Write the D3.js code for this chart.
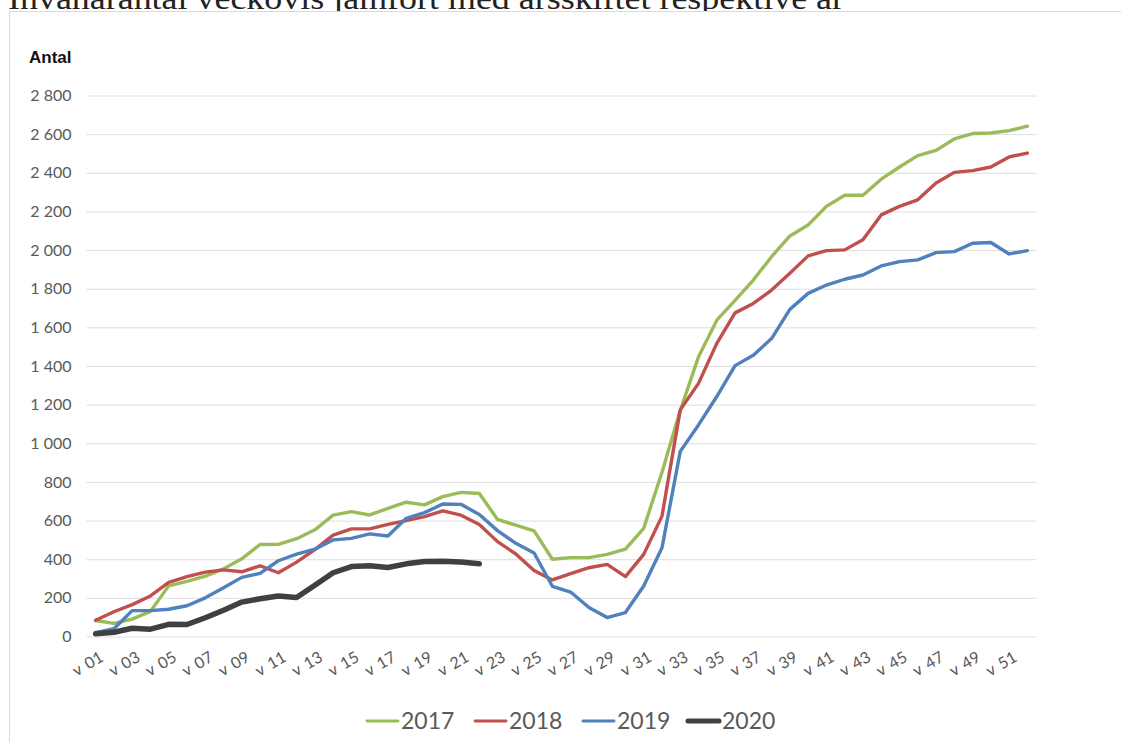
<!DOCTYPE html>
<html>
<head>
<meta charset="utf-8">
<script src="https://cdn.jsdelivr.net/npm/d3@7"></script>
<style>
  body { margin: 0; background: #fff; }
  svg { display: block; }
</style>
</head>
<body>
<div class="main"></div>
<script>
// Week categories and yearly series
const weeks = ["v 01","v 02","v 03","v 04","v 05","v 06","v 07","v 08","v 09","v 10",
  "v 11","v 12","v 13","v 14","v 15","v 16","v 17","v 18","v 19","v 20",
  "v 21","v 22","v 23","v 24","v 25","v 26","v 27","v 28","v 29","v 30",
  "v 31","v 32","v 33","v 34","v 35","v 36","v 37","v 38","v 39","v 40",
  "v 41","v 42","v 43","v 44","v 45","v 46","v 47","v 48","v 49","v 50",
  "v 51","v 52"]
const weekLabels = ["v 01","v 03","v 05","v 07","v 09","v 11","v 13","v 15","v 17","v 19",
  "v 21","v 23","v 25","v 27","v 29","v 31","v 33","v 35","v 37","v 39",
  "v 41","v 43","v 45","v 47","v 49","v 51"]

const y2017 = [83, 68, 90, 130, 262, 285, 312, 350, 402, 476, 477, 506, 552, 628, 646, 629, 663, 695, 681, 724,
  746, 740, 606, 576, 547, 400, 408, 408, 425, 452, 560, 850, 1170, 1448, 1637, 1740, 1845, 1966, 2073, 2130,
  2226, 2284, 2284, 2367, 2430, 2489, 2516, 2575, 2603, 2606, 2618, 2641]
const y2018 = [84, 128, 165, 210, 280, 310, 333, 345, 335, 366, 330, 385, 450, 525, 557, 557, 580, 600, 620, 650,
  628, 580, 491, 427, 342, 293, 325, 356, 373, 310, 425, 623, 1173, 1310, 1517, 1675, 1724, 1793, 1880, 1970,
  1997, 2001, 2053, 2182, 2226, 2260, 2347, 2402, 2411, 2430, 2482, 2502]
const y2019 = [20, 40, 134, 134, 141, 159, 200, 252, 306, 327, 392, 426, 452, 500, 508, 531, 520, 612, 641, 686,
  684, 631, 548, 482, 432, 260, 230, 150, 98, 124, 261, 459, 958, 1095, 1242, 1402, 1456, 1542, 1693, 1776,
  1819, 1849, 1871, 1918, 1940, 1949, 1987, 1992, 2035, 2039, 1980, 1997]
const y2020 = [14, 22, 43, 38, 63, 62, 97, 136, 178, 195, 210, 202, 265, 330, 362, 366, 357, 376, 388, 390,
  385, 377]

const yTicks = [0, 200, 400, 600, 800, 1000, 1200, 1400, 1600, 1800, 2000, 2200, 2400, 2600, 2800]
const years = ["2017", "2018", "2019", "2020"]

const series = [
  {name: years[0], values: y2017, color: "#9bbb59", width: 3.4},
  {name: years[1], values: y2018, color: "#c0504d", width: 3.4},
  {name: years[2], values: y2019, color: "#4f81bd", width: 3.4},
  {name: years[3], values: y2020, color: "#404040", width: 5.5}
]

const width = 1121
const height = 742
const margin = ({top: 95.5, right: 84.5, bottom: 105.5, left: 86.5})
const font = "Lato, 'Open Sans', sans-serif"

const x = d3.scaleBand()
  .domain(weeks)
  .range([margin.left, width - margin.right])

const y = d3.scaleLinear()
  .domain([0, 2800])
  .range([height - margin.bottom, margin.top])

const fmt = d3.formatLocale({decimal: ",", thousands: "\u00a0", grouping: [3], currency: ["", ""]}).format(",d")

const svg = d3.select(".main")
  .append("svg")
    .attr("width", width)
    .attr("height", height)
    .attr("viewBox", [0, 0, width, height])

// page title, cut off by the top edge (as in the source screenshot)
svg.append("text")
  .attr("x", 8)
  .attr("y", 9)
  .attr("font-family", "'Liberation Serif', serif")
  .attr("font-size", 31)
  .attr("textLength", 836)
  .attr("lengthAdjust", "spacingAndGlyphs")
  .attr("fill", "#222")
  .text("Invånarantal veckovis jämfört med årsskiftet respektive år")

// chart frame
svg.append("rect")
  .attr("x", 9.5)
  .attr("y", 11.5)
  .attr("width", width)
  .attr("height", height)
  .attr("fill", "#fff")
  .attr("stroke", "#d9d9d9")

svg.append("text")
  .attr("x", 29)
  .attr("y", 63)
  .attr("font-family", "'Liberation Sans', Arial, sans-serif")
  .attr("font-weight", "bold")
  .attr("font-size", 17)
  .attr("fill", "#111")
  .text("Antal")

// y axis: gridlines + labels
const yAxis = g => g
  .attr("transform", `translate(${margin.left},0)`)
  .call(d3.axisLeft(y)
    .tickValues(yTicks)
    .tickSize(-(width - margin.left - margin.right))
    .tickPadding(15)
    .tickFormat(fmt))
  .call(g => g.select(".domain").remove())
  .call(g => g.selectAll(".tick line").attr("stroke", "#dedede").attr("stroke-width", 1))
  .call(g => g.selectAll(".tick text")
    .attr("fill", "#595959")
    .attr("font-family", font)
    .attr("font-size", 16))

svg.append("g").call(yAxis)

// x axis labels (every second week, rotated)
svg.append("g")
  .selectAll("text")
  .data(weekLabels)
  .join("text")
    .attr("transform", d => `translate(${x(d) + x.bandwidth() / 2 + 3}, 650) rotate(-30)`)
    .attr("text-anchor", "end")
    .attr("dy", "0.75em")
    .attr("fill", "#595959")
    .attr("font-family", font)
    .attr("font-size", 16)
    .attr("word-spacing", 2)
    .text(d => d)

// lines
const line = d3.line()
  .x((d, i) => x(weeks[i]) + x.bandwidth() / 2)
  .y(d => y(d))

svg.append("g")
  .selectAll("path")
  .data(series)
  .join("path")
    .attr("d", d => line(d.values))
    .attr("fill", "none")
    .attr("stroke", d => d.color)
    .attr("stroke-width", d => d.width)
    .attr("stroke-linejoin", "round")
    .attr("stroke-linecap", "round")

// legend
const legendX = [367, 475, 583, 688]
const legend = svg.append("g")
  .selectAll("g")
  .data(series)
  .join("g")
    .attr("transform", (d, i) => `translate(${legendX[i]}, 721)`)

legend.append("line")
  .attr("x1", 0)
  .attr("x2", 31)
  .attr("stroke", d => d.color)
  .attr("stroke-width", d => d.width - 0.5)
  .attr("stroke-linecap", "round")

legend.append("text")
  .attr("x", 34)
  .attr("dy", "0.35em")
  .attr("fill", "#595959")
  .attr("font-family", font)
  .attr("font-size", 23)
  .text(d => d.name)
</script>
</body>
</html>
